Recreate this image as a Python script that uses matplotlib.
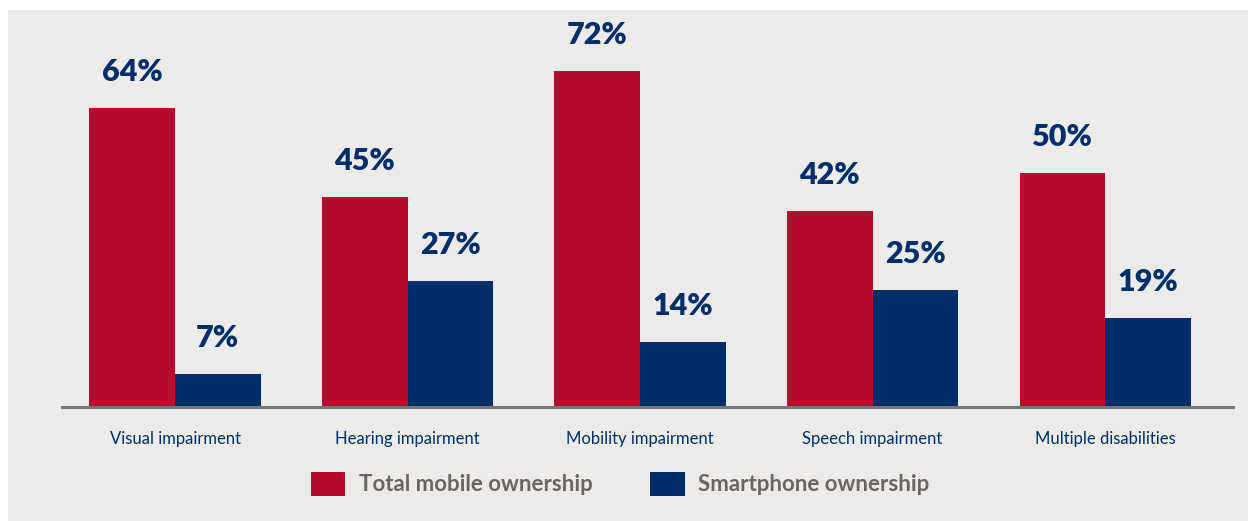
import matplotlib.pyplot as plt
from matplotlib.patches import Rectangle
import numpy as np

####################
categories = ['Visual impairment', 'Hearing impairment', 'Mobility impairment',
              'Speech impairment', 'Multiple disabilities']
total_mobile = [64, 45, 72, 42, 50]
smartphone = [7, 27, 14, 25, 19]
series_names = ['Total mobile ownership', 'Smartphone ownership']
####################

red = '#b80c2f'
navy = '#002e6b'
bg = '#ecebe9'
grey_txt = '#6b6463'

W, H = 1248, 521
fig = plt.figure(figsize=(W / 100, H / 100), dpi=100)
fig.patch.set_facecolor('white')

# grey panel behind everything
fig.patches.append(Rectangle((8 / W, 0), 1 - 8 / W, (H - 10) / H,
                             transform=fig.transFigure, facecolor=bg,
                             edgecolor='none', zorder=-5))

ax = fig.add_axes([62 / W, (H - 407) / H, (1233 - 62) / W, (407 - 10) / H])
ax.set_facecolor('none')
ax.set_zorder(2)

x = np.arange(len(categories))
w = 0.368
b1 = ax.bar(x - w / 2, total_mobile, w, color=red, label=series_names[0])
b2 = ax.bar(x + w / 2, smartphone, w, color=navy, label=series_names[1])

for bars, vals in [(b1, total_mobile), (b2, smartphone)]:
    for r, v in zip(bars, vals):
        ax.annotate(f'{v}%', (r.get_x() + r.get_width() / 2, v),
                    xytext=(0, 36), textcoords='offset pixels',
                    ha='center', va='center', fontsize=22,
                    fontweight='heavy', color=navy, family='Lato')

ax.set_xlim(-0.486, 4.55)
ax.set_ylim(0, 85)
ax.set_xticks(x)
ax.set_xticklabels(categories, fontsize=12, color=navy, family='Lato')
ax.tick_params(axis='x', length=0, pad=17)
ax.set_yticks([])
for s in ['top', 'right', 'left']:
    ax.spines[s].set_visible(False)
ax.spines['bottom'].set_color('#777777')
ax.spines['bottom'].set_linewidth(2.2)

leg = fig.legend(handles=[b1, b2], loc='center', ncol=2,
                 bbox_to_anchor=(620 / W, (H - 484) / H), frameon=False,
                 prop={'family': 'Lato', 'weight': 'bold', 'size': 16},
                 handlelength=1.55, handleheight=1.3, handletextpad=0.6,
                 columnspacing=2.6, labelcolor=grey_txt)
leg.set_zorder(3)

fig.savefig('out.png', dpi=100, facecolor='white')
